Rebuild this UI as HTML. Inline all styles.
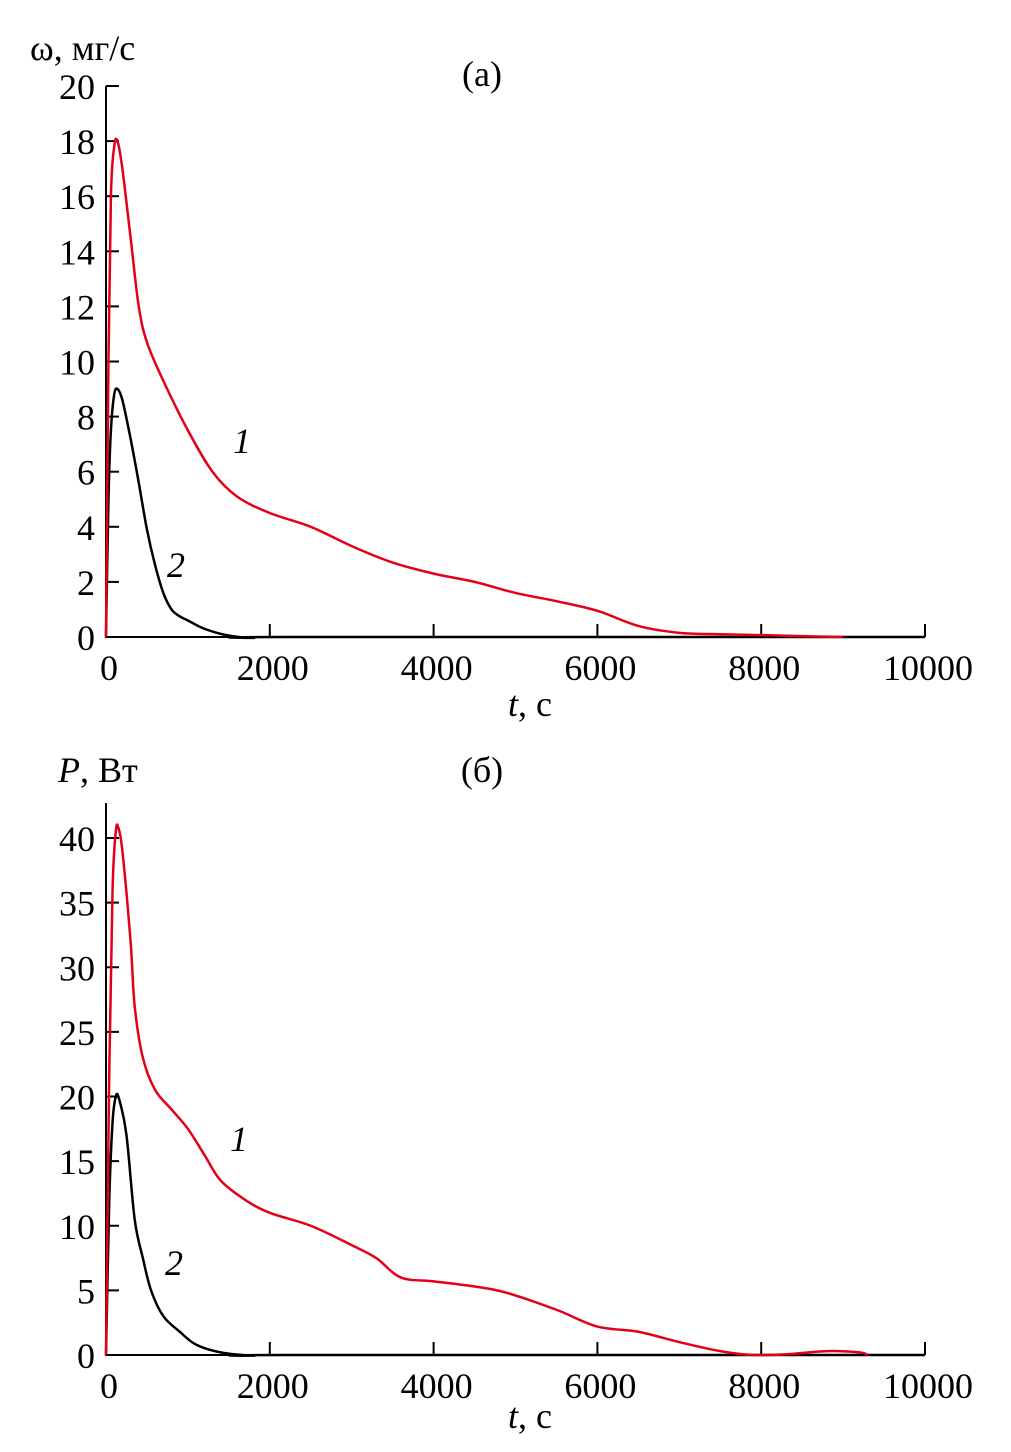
<!DOCTYPE html>
<html><head><meta charset="utf-8"><style>
body{margin:0;background:#fff}
svg text{font-family:"Liberation Serif",serif;fill:#000}
</style></head><body>
<svg id="s" width="1011" height="1447" xmlns="http://www.w3.org/2000/svg"></svg>
<script>
const xTicks=[0,2000,4000,6000,8000,10000];
const aYTicks=[0,2,4,6,8,10,12,14,16,18,20];
const bYTicks=[0,5,10,15,20,25,30,35,40];
const a1T=[0,30,60,100,140,200,300,400,500,700,1000,1300,1600,2000,2500,3000,3500,4000,4500,5000,5500,6000,6500,7000,7500,8000,8500,9000];
const a1V=[0,10,16,17.8,18,17,14.5,12,10.7,9.3,7.5,6,5.1,4.5,4,3.3,2.7,2.3,2,1.6,1.3,0.95,0.4,0.15,0.1,0.07,0.03,0];
const a2T=[0,30,60,100,140,200,300,400,500,600,700,800,900,1000,1200,1500,1800,2200,10000];
const a2V=[0,5,7.5,8.8,9,8.6,7.2,5.6,3.9,2.6,1.6,1.0,0.75,0.6,0.3,0.05,-0.03,0,0];
const b1T=[0,40,80,120,150,200,300,350,450,600,800,1000,1200,1400,1700,2000,2500,3000,3300,3600,4000,4500,4900,5500,6000,6500,7000,7500,7900,8300,8800,9200,9300];
const b1V=[0,22,36,40.5,40.8,39,32,27,23,20.5,19,17.5,15.5,13.5,12,11,10,8.5,7.5,6,5.7,5.3,4.8,3.5,2.2,1.8,1,0.3,0,0.05,0.3,0.2,0];
const b2T=[0,40,80,120,160,250,350,450,550,700,900,1100,1400,1800,2200,10000];
const b2V=[0,12,18,20,19.8,17,10.5,7.5,5,3,1.8,0.8,0.2,-0.05,0,0];
const NS="http://www.w3.org/2000/svg",svg=document.getElementById('s');
function mk(tag,at,txt){const e=document.createElementNS(NS,tag);for(const k in at)e.setAttribute(k,at[k]);if(txt!=null)e.textContent=txt;svg.appendChild(e);return e;}
const X=t=>106+t*(925-106)/10000;
function smooth(pts){let d='M'+pts[0][0]+','+pts[0][1];for(let i=0;i<pts.length-1;i++){const p0=pts[i-1]||pts[i],p1=pts[i],p2=pts[i+1],p3=pts[i+2]||p2;d+=' C'+(p1[0]+(p2[0]-p0[0])/6)+','+(p1[1]+(p2[1]-p0[1])/6)+' '+(p2[0]-(p3[0]-p1[0])/6)+','+(p2[1]-(p3[1]-p1[1])/6)+' '+p2[0]+','+p2[1];}return d;}
function panel(p,y0,ppu,yTicks,yTop,s1T,s1V,s2T,s2V){
  const Y=v=>y0-v*ppu;
  let e=mk('path',{d:'M106,'+yTop+' L106,'+y0+' L925,'+y0,fill:'none',stroke:'#000','stroke-width':2});
  
  yTicks.forEach(v=>{let l=mk('line',{x1:106,x2:119,y1:Y(v),y2:Y(v),stroke:'#000','stroke-width':2});
    
    let t=mk('text',{x:95,y:Y(v)+13,'font-size':36,'text-anchor':'end'},String(v));
    });
  xTicks.forEach(v=>{let l=mk('line',{x1:X(v),x2:X(v),y1:y0,y2:y0-13,stroke:'#000','stroke-width':2});
    
    let t=mk('text',{x:X(v)+3,y:y0+43,'font-size':36,'text-anchor':'middle'},String(v));
    });
  let c2=mk('path',{d:smooth(s2T.map((t,i)=>[X(t),Y(s2V[i])])),fill:'none',stroke:'#000','stroke-width':2.5});
  
  let c1=mk('path',{d:smooth(s1T.map((t,i)=>[X(t),Y(s1V[i])])),fill:'none',stroke:'#e3001b','stroke-width':2.5});
  
}
panel('panel-a',637,(637-86)/20,aYTicks,86,a1T,a1V,a2T,a2V);
panel('panel-b',1355,(1355-838)/40,bYTicks,803,b1T,b1V,b2T,b2V);
function lab(x,y,txt,name,extra){let t=mk('text',Object.assign({x:x,y:y,'font-size':36},extra||{}));t.innerHTML=txt;}
lab(30,60,'ω, мг/с','panel-a-y-title');
lab(482,86,'(а)','panel-a-title',{'text-anchor':'middle'});
lab(233,453,'1','panel-a-label-1',{'font-style':'italic'});
lab(167,577,'2','panel-a-label-2',{'font-style':'italic'});
lab(530,716,'<tspan font-style="italic">t</tspan>, с','panel-a-x-title',{'text-anchor':'middle'});
lab(58,782,'<tspan font-style="italic">P</tspan>, Вт','panel-b-y-title');
lab(482,782,'(б)','panel-b-title',{'text-anchor':'middle'});
lab(230,1151,'1','panel-b-label-1',{'font-style':'italic'});
lab(165,1275,'2','panel-b-label-2',{'font-style':'italic'});
lab(530,1428,'<tspan font-style="italic">t</tspan>, с','panel-b-x-title',{'text-anchor':'middle'});
</script>
</body></html>
